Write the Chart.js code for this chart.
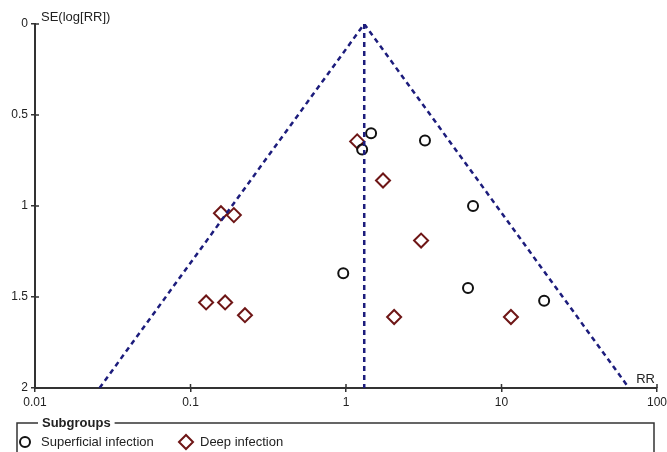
<!DOCTYPE html>
<html>
<head>
<meta charset="utf-8">
<script src="https://cdn.jsdelivr.net/npm/chart.js@4/dist/chart.umd.min.js"></script>
<style>
  html, body { margin: 0; padding: 0; background: #fff; }
  #funnel { display: block; }
</style>
</head>
<body>
<canvas id="funnel" width="667" height="452"></canvas>
<script>
// values
const superficialRR = [1.45, 1.27, 3.22, 6.56, 0.96, 6.09, 18.8];
const superficialSE = [0.60, 0.69, 0.64, 1.00, 1.37, 1.45, 1.52];
const deepRR = [1.18, 0.157, 0.19, 0.126, 0.167, 0.224, 1.73, 3.04, 11.5, 2.04];
const deepSE = [0.645, 1.04, 1.05, 1.53, 1.53, 1.60, 0.86, 1.19, 1.61, 1.61];
const pooledRR = 1.31;
const funnelRR = [0.026, 1.31, 66];
const funnelSE = [2, 0, 2];
const xTicks = [0.01, 0.1, 1, 10, 100];
const yTicks = [0, 0.5, 1, 1.5, 2];

const axisColor = '#333333';
const navy = '#1c1c7c';
const deepColor = '#6e1616';

Chart.defaults.font.family = "'Liberation Sans', Arial, sans-serif";
Chart.defaults.font.size = 12;
Chart.defaults.color = '#222';

function pairs(xs, ys) {
	return xs.map(function (v, i) { return {x: v, y: ys[i]}; });
}

const extras = {
	id: 'extras',
	afterDraw: function (chart) {
		const ctx = chart.ctx;
		const xs = chart.scales.x, ys = chart.scales.y;
		const area = chart.chartArea;
		ctx.save();
		// tick marks crossing into the plot
		ctx.strokeStyle = axisColor;
		ctx.lineWidth = 1.5;
		ctx.beginPath();
		xTicks.forEach(function (v) {
			const px = xs.getPixelForValue(v);
			ctx.moveTo(px, area.bottom);
			ctx.lineTo(px, area.bottom - 4);
		});
		yTicks.forEach(function (v) {
			const py = ys.getPixelForValue(v);
			ctx.moveTo(area.left, py);
			ctx.lineTo(area.left + 4, py);
		});
		ctx.stroke();

		// axis titles
		ctx.fillStyle = '#222';
		ctx.font = "13px 'Liberation Sans', Arial, sans-serif";
		ctx.textBaseline = 'middle';
		ctx.textAlign = 'left';
		ctx.fillText('SE(log[RR])', area.left + 6, area.top - 7);
		ctx.textAlign = 'right';
		ctx.fillText('RR', area.right - 2, area.bottom - 9);

		// legend box
		const bx = 17, by = 423, br = 654;
		ctx.font = "bold 13px 'Liberation Sans', Arial, sans-serif";
		ctx.textAlign = 'left';
		const title = 'Subgroups';
		const tw = ctx.measureText(title).width;
		ctx.fillText(title, 42, by);
		ctx.strokeStyle = axisColor;
		ctx.lineWidth = 1.5;
		ctx.beginPath();
		ctx.moveTo(38, by);
		ctx.lineTo(bx, by);
		ctx.lineTo(bx, chart.height + 2);
		ctx.moveTo(42 + tw + 4, by);
		ctx.lineTo(br, by);
		ctx.lineTo(br, chart.height + 2);
		ctx.stroke();

		const ly = 442;
		ctx.lineWidth = 2;
		ctx.strokeStyle = '#111';
		ctx.beginPath();
		ctx.arc(25, ly, 5, 0, Math.PI * 2);
		ctx.stroke();
		ctx.strokeStyle = deepColor;
		ctx.beginPath();
		ctx.moveTo(179, ly);
		ctx.lineTo(186, ly - 7);
		ctx.lineTo(193, ly);
		ctx.lineTo(186, ly + 7);
		ctx.closePath();
		ctx.stroke();
		ctx.font = "13px 'Liberation Sans', Arial, sans-serif";
		ctx.fillText('Superficial infection', 41, ly);
		ctx.fillText('Deep infection', 200, ly);
		ctx.restore();
	}
};

new Chart(document.getElementById('funnel'), {
	type: 'scatter',
	data: {
		datasets: [
		{
			label: 'Funnel',
			type: 'line',
			data: pairs(funnelRR, funnelSE),
			showLine: true,
			fill: false,
			pointRadius: 0,
			borderColor: navy,
			borderWidth: 2.5,
			borderDash: [5, 4]
		},{
			label: 'Pooled',
			type: 'line',
			data: [{x: pooledRR, y: 0}, {x: pooledRR, y: 2}],
			showLine: true,
			fill: false,
			pointRadius: 0,
			borderColor: navy,
			borderWidth: 2.5,
			borderDash: [5, 4]
		},{
			label: 'Superficial infection',
			data: pairs(superficialRR, superficialSE),
			pointStyle: 'circle',
			pointRadius: 5,
			borderWidth: 2,
			borderColor: '#111',
			backgroundColor: 'rgba(0,0,0,0)'
		},{
			label: 'Deep infection',
			data: pairs(deepRR, deepSE),
			pointStyle: 'rectRot',
			pointRadius: 7,
			borderWidth: 2,
			borderColor: deepColor,
			backgroundColor: 'rgba(0,0,0,0)'
		}
		]
	},
	options: {
		responsive: false,
		animation: false,
		devicePixelRatio: 1,
		layout: {
			padding: {left: 0, top: 24, right: 0, bottom: 34}
		},
		plugins: {
			legend: {display: false},
			tooltip: {enabled: false}
		},
		scales: {
			x: {
				type: 'logarithmic',
				min: 0.01,
				max: 100,
				afterBuildTicks: function (s) { s.ticks = xTicks.map(function (v) { return {value: v}; }); },
				afterFit: function (s) { s.height = 30; s.paddingRight = 10; },
				ticks: {
					autoSkip: false,
					maxRotation: 0,
					padding: 3,
					callback: function (v) { return String(v); }
				},
				grid: {drawOnChartArea: false, tickLength: 4, color: axisColor, lineWidth: 1.5},
				border: {color: axisColor, width: 2}
			},
			y: {
				reverse: true,
				min: 0,
				max: 2,
				afterBuildTicks: function (s) { s.ticks = yTicks.map(function (v) { return {value: v}; }); },
				afterFit: function (s) { s.width = 35; },
				ticks: {
					padding: 3,
					callback: function (v) { return String(v); }
				},
				grid: {drawOnChartArea: false, tickLength: 4, color: axisColor, lineWidth: 1.5},
				border: {color: axisColor, width: 2}
			}
		}
	},
	plugins: [extras]
});
</script>
</body>
</html>
